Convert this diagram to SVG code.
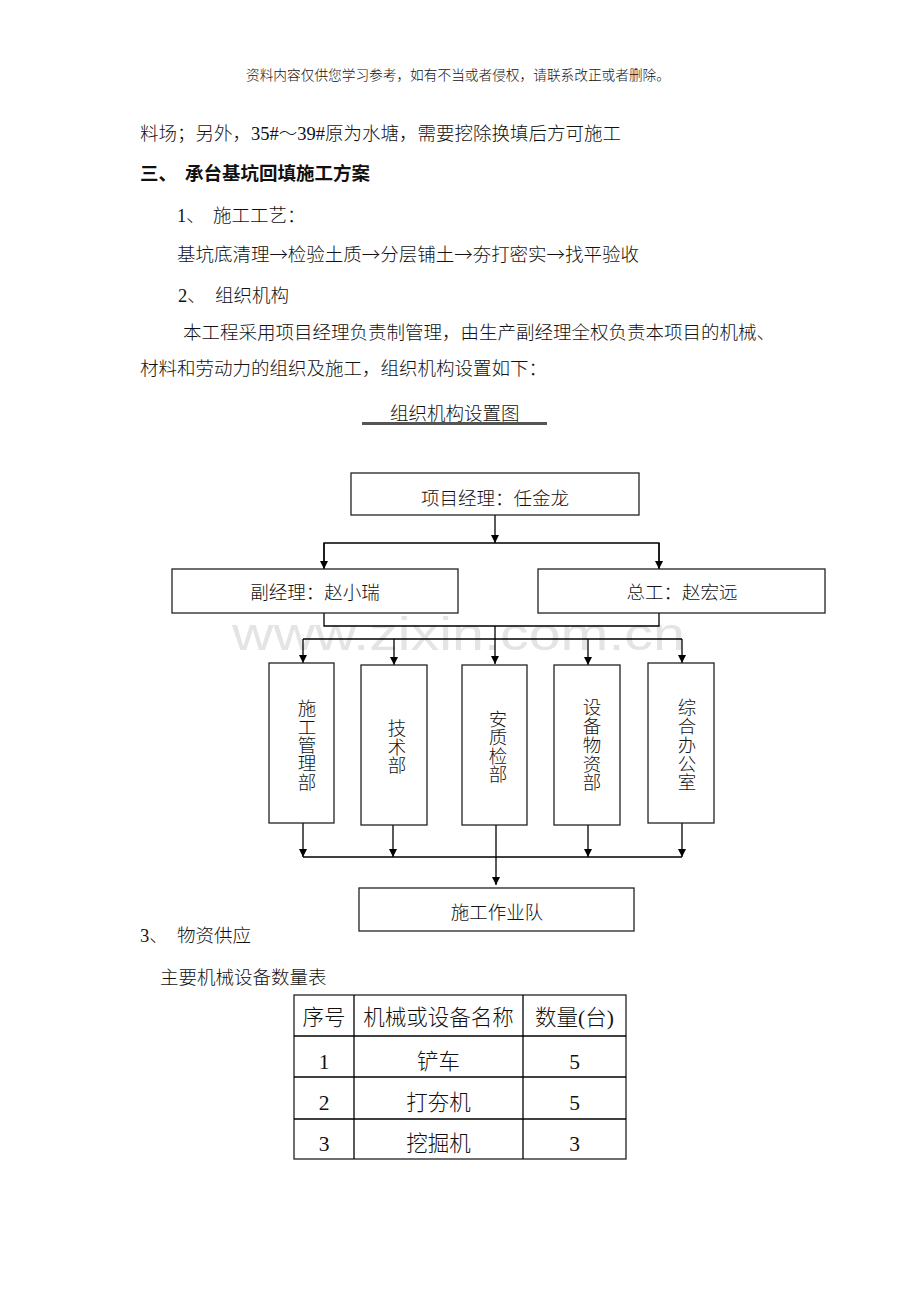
<svg xmlns="http://www.w3.org/2000/svg" width="920" height="1302" viewBox="0 0 920 1302">
<style>
text{font-family:"Liberation Serif","Noto Sans CJK SC",serif;fill:#111;font-weight:300}
.cj{font-family:"Noto Sans CJK SC","Liberation Serif",sans-serif}
.b{font-size:18.5px}
.hd{font-size:13.7px}
.bold{font-weight:700}
.mid{text-anchor:middle}
.box{fill:#fff;stroke:#222;stroke-width:1.3}
.ln{fill:none;stroke:#000;stroke-width:1.3}
.tb{font-size:21.5px;text-anchor:middle}
.wm{font-family:"Liberation Sans",sans-serif;font-size:46px;fill:#e4e4e4;font-weight:400}
</style>
<defs>
<marker id="arr" viewBox="0 0 10 10" refX="10" refY="5" markerWidth="10" markerHeight="8" orient="auto" markerUnits="userSpaceOnUse">
<path d="M0,0 L10,5 L0,10 z" fill="#000"/>
</marker>
</defs>
<rect width="920" height="1302" fill="#fff"/>

<g id="page-text">
<text class="hd" x="246" y="80" textLength="424">资料内容仅供您学习参考，如有不当或者侵权，请联系改正或者删除。</text>
<text class="b" x="140" y="140">料场；另外，35#～39#原为水塘，需要挖除换填后方可施工</text>
<text class="b bold"><tspan x="140" y="180">三、</tspan><tspan x="185" y="180">承台基坑回填施工方案</tspan></text>
<text class="b"><tspan x="177" y="222">1、</tspan><tspan x="213" y="222">施工工艺：</tspan></text>
<text class="b cj" x="177" y="261" textLength="462">基坑底清理→检验土质→分层铺土→夯打密实→找平验收</text>
<text class="b"><tspan x="178" y="302">2、</tspan><tspan x="215" y="302">组织机构</tspan></text>
<text class="b" x="183" y="339">本工程采用项目经理负责制管理，由生产副经理全权负责本项目的机械、</text>
<text class="b" x="140" y="375">材料和劳动力的组织及施工，组织机构设置如下：</text>
<text class="b" x="390" y="420">组织机构设置图</text>
<line x1="362" y1="423.5" x2="547" y2="423.5" stroke="#555" stroke-width="3"/>
</g>

<text id="watermark" class="wm" x="232" y="650" textLength="453" lengthAdjust="spacingAndGlyphs">www.zixin.com.cn</text>

<g id="connectors">
<line class="ln" x1="495" y1="515" x2="495" y2="543" marker-end="url(#arr)"/>
<polyline class="ln" points="324,569 324,543 659,543 659,569"/>
<line class="ln" x1="324" y1="543" x2="324" y2="569" marker-end="url(#arr)"/>
<line class="ln" x1="659" y1="543" x2="659" y2="569" marker-end="url(#arr)"/>
<polyline class="ln" points="324,613 324,626 659,626 659,613"/>
<line class="ln" x1="303" y1="639" x2="682" y2="639"/>
<line class="ln" x1="495" y1="626" x2="495" y2="664" marker-end="url(#arr)"/>
<line class="ln" x1="303" y1="639" x2="303" y2="663" marker-end="url(#arr)"/>
<line class="ln" x1="394" y1="639" x2="394" y2="665" marker-end="url(#arr)"/>
<line class="ln" x1="588" y1="639" x2="588" y2="665" marker-end="url(#arr)"/>
<line class="ln" x1="682" y1="639" x2="682" y2="663" marker-end="url(#arr)"/>
<line class="ln" x1="303" y1="823" x2="303" y2="857" marker-end="url(#arr)"/>
<line class="ln" x1="393" y1="825" x2="393" y2="857" marker-end="url(#arr)"/>
<line class="ln" x1="588" y1="825" x2="588" y2="857" marker-end="url(#arr)"/>
<line class="ln" x1="682" y1="823" x2="682" y2="857" marker-end="url(#arr)"/>
<line class="ln" x1="303" y1="857" x2="682" y2="857"/>
<line class="ln" x1="496" y1="825" x2="496" y2="885" marker-end="url(#arr)"/>
</g>

<g id="pm">
<rect class="box" x="351" y="473" width="288" height="42"/>
<text class="b mid" x="495" y="505">项目经理：任金龙</text>
</g>
<g id="deputy">
<rect class="box" x="172" y="569" width="286" height="44"/>
<text class="b mid" x="315" y="599">副经理：赵小瑞</text>
</g>
<g id="chief">
<rect class="box" x="538" y="569" width="287" height="44"/>
<text class="b mid" x="682" y="599">总工：赵宏远</text>
</g>
<g id="dept1">
<rect class="box" x="269" y="663" width="65" height="160"/>
<text class="b mid"><tspan x="307" y="715">施</tspan><tspan x="307" y="734">工</tspan><tspan x="307" y="752">管</tspan><tspan x="307" y="770">理</tspan><tspan x="307" y="789">部</tspan></text>
</g>
<g id="dept2">
<rect class="box" x="361" y="665" width="66" height="160"/>
<text class="b mid"><tspan x="397" y="735">技</tspan><tspan x="397" y="754">术</tspan><tspan x="397" y="772">部</tspan></text>
</g>
<g id="dept3">
<rect class="box" x="462" y="665" width="65" height="160"/>
<text class="b mid"><tspan x="498" y="726">安</tspan><tspan x="498" y="744">质</tspan><tspan x="498" y="763">检</tspan><tspan x="498" y="781">部</tspan></text>
</g>
<g id="dept4">
<rect class="box" x="554" y="665" width="66" height="160"/>
<text class="b mid"><tspan x="592" y="714">设</tspan><tspan x="592" y="733">备</tspan><tspan x="592" y="752">物</tspan><tspan x="592" y="771">资</tspan><tspan x="592" y="789">部</tspan></text>
</g>
<g id="dept5">
<rect class="box" x="648" y="663" width="66" height="160"/>
<text class="b mid"><tspan x="687" y="714">综</tspan><tspan x="687" y="733">合</tspan><tspan x="687" y="752">办</tspan><tspan x="687" y="771">公</tspan><tspan x="687" y="789">室</tspan></text>
</g>
<g id="team">
<rect class="box" x="359" y="888" width="275" height="43"/>
<text class="b mid" x="497" y="919">施工作业队</text>
</g>

<g id="supply">
<text class="b"><tspan x="140" y="942">3、</tspan><tspan x="177" y="942">物资供应</tspan></text>
<text class="b" x="160" y="984">主要机械设备数量表</text>
</g>

<g id="table">
<rect x="294" y="995" width="332" height="164" fill="none" stroke="#222" stroke-width="1.3"/>
<line class="ln" x1="354" y1="995" x2="354" y2="1159"/>
<line class="ln" x1="523" y1="995" x2="523" y2="1159"/>
<line class="ln" x1="294" y1="1036" x2="626" y2="1036"/>
<line class="ln" x1="294" y1="1077" x2="626" y2="1077"/>
<line class="ln" x1="294" y1="1119" x2="626" y2="1119"/>
<text class="tb" x="324" y="1025">序号</text>
<text class="tb" x="438.5" y="1025">机械或设备名称</text>
<text class="tb" x="574.5" y="1025">数量(台)</text>
<text class="tb" x="324" y="1069">1</text>
<text class="tb" x="438.5" y="1069">铲车</text>
<text class="tb" x="574.5" y="1069">5</text>
<text class="tb" x="324" y="1110">2</text>
<text class="tb" x="438.5" y="1110">打夯机</text>
<text class="tb" x="574.5" y="1110">5</text>
<text class="tb" x="324" y="1151">3</text>
<text class="tb" x="438.5" y="1151">挖掘机</text>
<text class="tb" x="574.5" y="1151">3</text>
</g>
</svg>
